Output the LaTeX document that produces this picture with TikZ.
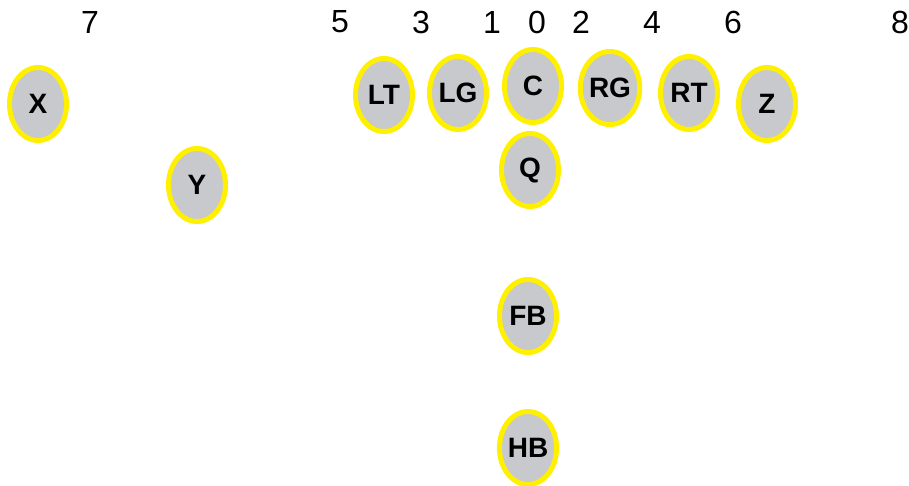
\documentclass[tikz,border=0pt]{standalone}
\usepackage{fontspec}
\setmainfont{Liberation Sans}
\usetikzlibrary{shapes.geometric}
\definecolor{playerfill}{RGB}{200,201,204}
\definecolor{playerring}{RGB}{255,240,0}

\begin{document}
\begin{tikzpicture}[x=1pt, y=-1pt,
    player/.style={ellipse, draw=playerring, fill=playerfill, line width=5pt,
        minimum width=57pt, minimum height=73pt, inner sep=0pt,
        font=\fontsize{28}{30}\selectfont\bfseries},
    hole/.style={font=\fontsize{32}{34}\selectfont}]
    \useasboundingbox (0,0) rectangle (909,486);
    % Hole numbers across the top.
        \node[hole] (h7) at (90, 22) {7};
        \node[hole] (h5) at (340, 22) {5};
        \node[hole] (h3) at (421, 22) {3};
        \node[hole] (h1) at (492, 22) {1};
        \node[hole] (h0) at (537, 22) {0};
        \node[hole] (h2) at (581, 22) {2};
        \node[hole] (h4) at (652, 22) {4};
        \node[hole] (h6) at (733, 22) {6};
        \node[hole] (h8) at (900, 22) {8};
    % The offensive line.
        \node[player] (lt) at (384, 95) {LT};
        \node[player] (lg) at (458, 93) {LG};
        \node[player] (c) at (533, 86) {C};
        \node[player] (rg) at (610, 88) {RG};
        \node[player] (rt) at (689, 93) {RT};
    % Receivers.
        \node[player] (x) at (38, 104) {X};
        \node[player] (y) at (197, 185) {Y};
        \node[player] (z) at (767, 104) {Z};
    % Backfield.
        \node[player] (q) at (530, 170) {Q};
        \node[player] (fb) at (528, 316) {FB};
        \node[player] (hb) at (528, 448) {HB};
\end{tikzpicture}
\end{document}
